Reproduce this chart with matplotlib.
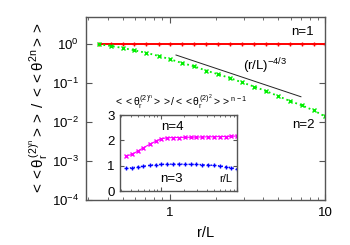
import matplotlib
matplotlib.use("Agg")
import matplotlib.pyplot as plt
from matplotlib.ticker import LogLocator, NullFormatter, FixedLocator

plt.rcParams['font.family'] = ['Liberation Sans', 'DejaVu Sans']
plt.rcParams['mathtext.fontset'] = 'custom'
plt.rcParams['mathtext.rm'] = 'Liberation Sans'
plt.rcParams['mathtext.it'] = 'Liberation Sans'
plt.rcParams['mathtext.bf'] = 'Liberation Sans:bold'

r = [0.35, 0.42, 0.50, 0.59, 0.71, 0.85, 1.01, 1.2, 1.44, 1.72, 2.05, 2.45,
     2.92, 3.49, 4.16, 4.97, 5.93, 7.08, 8.45, 10.0]
n1 = [1.0] * 20
n2 = [1.0, 0.90, 0.80, 0.70, 0.60, 0.50, 0.41, 0.33, 0.27, 0.21, 0.17, 0.135,
      0.105, 0.082, 0.063, 0.047, 0.035, 0.027, 0.020, 0.014]
n3 = [0.89, 0.92, 0.95, 0.98, 1.01, 1.04, 1.05, 1.06, 1.06, 1.06, 1.06, 1.05,
      1.05, 1.04, 1.03, 1.01, 0.99, 0.96, 0.92, 0.86]
n4 = [1.38, 1.45, 1.58, 1.71, 1.84, 1.96, 2.06, 2.10, 2.11, 2.11, 2.12, 2.12,
      2.13, 2.13, 2.14, 2.14, 2.15, 2.15, 2.16, 2.17]
pl_x = [1.1, 7.0]
pl_amp = 0.6

spine_col = '#555555'
fig = plt.figure(figsize=(3.5, 2.45), dpi=100)
ax = fig.add_axes([86/350, 1-200/245, (325-86)/350, (200-17)/245])
ax.set_xscale('log'); ax.set_yscale('log')
ax.plot(r, n1, '-', color='#ff0000', lw=1.4, marker='+', ms=3.5, mew=1)
ax.plot(r, n2, ':', color='#00ee00', lw=1.3, marker='x', ms=3, mew=1)
ax.plot(pl_x, [pl_amp * x ** (-4/3) for x in pl_x], '-', color='#222222', lw=0.7)
ax.set_xlim(0.29, 10)
ax.set_ylim(1e-4, 5)
ax.set_yticks([1e-4, 1e-3, 1e-2, 1e-1, 1])
ax.set_yticklabels([r'$10^{-4}$', r'$10^{-3}$', r'$10^{-2}$', r'$10^{-1}$', r'$10^{0}$'])
ax.yaxis.set_minor_locator(FixedLocator([]))
ax.set_xticks([1, 10]); ax.set_xticklabels(['1', '10'])
ax.xaxis.set_minor_locator(LogLocator(base=10, subs=range(2, 10)))
ax.xaxis.set_minor_formatter(NullFormatter())
ax.tick_params(which='both', direction='in', top=True, right=True, colors='black',
               labelsize=9.5, pad=5)
ax.tick_params(which='major', length=4, color=spine_col)
ax.tick_params(which='minor', length=2, color=spine_col)
for s in ax.spines.values():
    s.set_color(spine_col); s.set_linewidth(1.0)
ax.set_xlabel('r/L', fontsize=10.5, labelpad=5)
ax.set_ylabel(r'$<<\theta_r^{(2)^n}>>\ /\ <<\theta^{2n}>>$', fontsize=11, labelpad=1)
ax.text(0.955, 0.92, 'n=1', transform=ax.transAxes, ha='right', va='center', fontsize=9.5)
ax.text(0.955, 0.41, 'n=2', transform=ax.transAxes, ha='right', va='center', fontsize=9.5)
ax.text(0.75, 0.73, r'$(r/L)^{-4/3}$', transform=ax.transAxes, ha='center', va='center', fontsize=9.5)

ins = fig.add_axes([120/350, 1-191/245, 117/350, 76/245])
ins.set_xscale('log')
ins.plot(r, n4, '-', color='#ff00ff', lw=0.8, marker='x', ms=3, mew=1)
ins.plot(r, n3, ':', color='#0000ff', lw=1.0, marker='+', ms=3.5, mew=1)
ins.set_xlim(0.29, 10)
ins.set_ylim(0, 3)
ins.set_yticks([0, 1, 2, 3])
ins.set_xticks([1, 10]); ins.set_xticklabels([])
ins.xaxis.set_minor_locator(LogLocator(base=10, subs=range(2, 10)))
ins.xaxis.set_minor_formatter(NullFormatter())
ins.tick_params(which='both', direction='in', top=True, right=True, labelsize=9.5, pad=4)
ins.tick_params(which='major', length=3, color=spine_col)
ins.tick_params(which='minor', length=1.5, color=spine_col)
for s in ins.spines.values():
    s.set_color(spine_col); s.set_linewidth(1.0)
ins.text(0.45, 0.84, 'n=4', transform=ins.transAxes, ha='center', va='center', fontsize=9.5)
ins.text(0.44, 0.16, 'n=3', transform=ins.transAxes, ha='center', va='center', fontsize=9.5)
ins.text(0.96, 0.16, 'r/L', transform=ins.transAxes, ha='right', va='center', fontsize=8)
ins.text(0.52, 1.05, r'$<<\theta_r^{(2)^n}>>/<<\theta_r^{(2)^2}>>^{n-1}$',
         transform=ins.transAxes, ha='center', va='bottom', fontsize=7.5)

fig.savefig('out.png', dpi=100)
